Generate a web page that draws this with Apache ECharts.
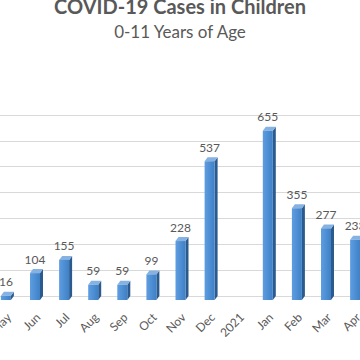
<!DOCTYPE html>
<html><head><meta charset="utf-8">
<style>html,body{margin:0;padding:0;background:#fff;}#c{width:360px;height:360px;}</style>
<script src="https://cdn.jsdelivr.net/npm/echarts@6/dist/echarts.min.js"></script>
</head><body><div id="c"></div>
<script>
var categories = ['May','Jun','Jul','Aug','Sep','Oct','Nov','Dec','2021','Jan','Feb','Mar','Apr'];
var cases = [16,104,155,59,59,99,228,537,null,655,355,277,233];
var yTicks = [0,100,200,300,400,500,600,700];
var titleText = 'COVID-19 Cases in Children';
var subtitleText = '0-11 Years of Age';

var chart = echarts.init(document.getElementById('c'), null, {renderer:'svg'});
var data = categories.map(function(c,i){ return [i, cases[i]]; });
chart.setOption({
  animation:false,
  title:{text:titleText, subtext:subtitleText, left:'center', top:-9, itemGap:7,
    textStyle:{fontFamily:'Lato', fontWeight:'bold', fontSize:20, color:'#595959'},
    subtextStyle:{fontFamily:'Lato', fontSize:17, color:'#595959'}},
  grid:{left:-5.65, right:-12.65, top:115, bottom:64, outerBoundsMode:'none', containLabel:false},
  xAxis:{type:'category', data:categories, axisLine:{show:false}, axisTick:{show:false},
    axisLabel:{rotate:45, interval:0, margin:19, fontFamily:'Lato', fontSize:12, color:'#595959'}},
  yAxis:{type:'value', min:yTicks[0], max:yTicks[yTicks.length-1], interval:100,
    axisLabel:{show:false}, axisLine:{show:false}, axisTick:{show:false},
    splitLine:{lineStyle:{color:'#d9d9d9', width:1}}},
  series:[{type:'custom', data:data, encode:{x:0,y:1},
    renderItem:function(params, api){
      var v = api.value(1);
      if (v == null || isNaN(v)) return;
      var top = api.coord([api.value(0), v]);
      var base = api.coord([api.value(0), 0]);
      var w = 10, dx = 3, dy = 4;
      var cx = top[0] - dx;
      var fx = cx - w/2, ft = top[1] + dy, fb = base[1] + dy;
      return {type:'group', children:[
        {type:'polygon', shape:{points:[[fx+w,ft],[fx+w+dx,ft-dy],[fx+w+dx,fb-dy],[fx+w,fb]]}, style:{fill:'#2b5a8e'}},
        {type:'polygon', shape:{points:[[fx,ft],[fx+dx,ft-dy],[fx+w+dx,ft-dy],[fx+w,ft]]}, style:{fill:'#86b2e2'}},
        {type:'rect', shape:{x:fx, y:ft, width:w, height:fb-ft},
          style:{fill:new echarts.graphic.LinearGradient(0,0,1,0,[{offset:0,color:'#5e9de0'},{offset:1,color:'#3f80c6'}])}},
        {type:'text', x:cx, y:top[1]-4, style:{text:String(v), fill:'#595959', font:'12px Lato', align:'center', verticalAlign:'bottom'}}
      ]};
    }
  }]
});
</script></body></html>
